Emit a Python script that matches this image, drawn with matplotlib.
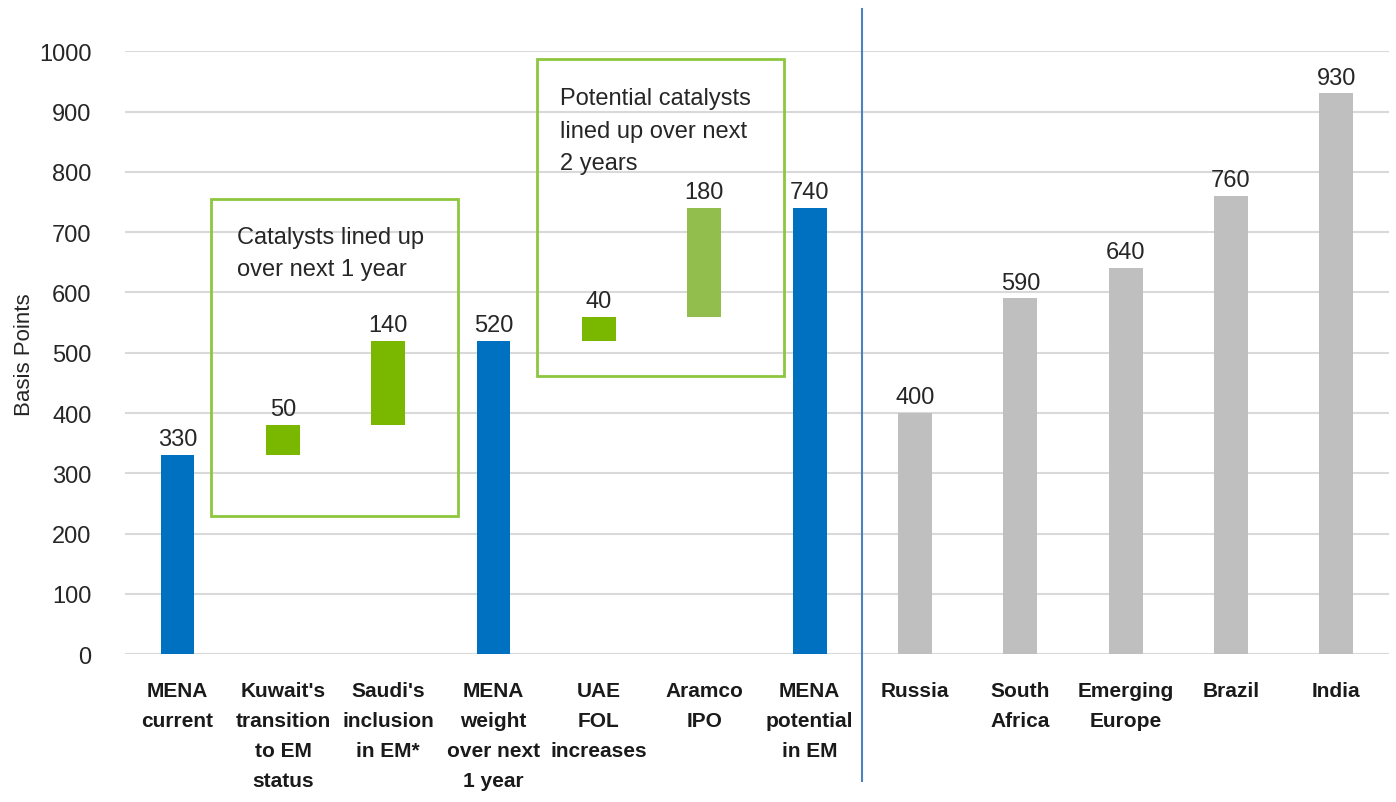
import numpy as np
import matplotlib.pyplot as plt
from matplotlib.patches import Rectangle
from matplotlib import font_manager

names = {f.name for f in font_manager.fontManager.ttflist}
narrow = 'Liberation Sans Narrow' if 'Liberation Sans Narrow' in names else 'Liberation Sans'
plt.rcParams['font.family'] = [narrow, 'DejaVu Sans']

categories = ["MENA\ncurrent", "Kuwait's\ntransition\nto EM\nstatus", "Saudi's\ninclusion\nin EM*",
              "MENA\nweight\nover next\n1 year", "UAE\nFOL\nincreases", "Aramco\nIPO",
              "MENA\npotential\nin EM", "Russia", "South\nAfrica", "Emerging\nEurope", "Brazil", "India"]
# bar heights and bases (waterfall)
heights = [330, 50, 140, 520, 40, 180, 740, 400, 590, 640, 760, 930]
bases = [0, 330, 380, 0, 520, 560, 0, 0, 0, 0, 0, 0]
labels = ["330", "50", "140", "520", "40", "180", "740", "400", "590", "640", "760", "930"]
kinds = ["total", "step", "step", "total", "step", "step2", "total",
         "peer", "peer", "peer", "peer", "peer"]

colors = {"total": "#0070C0", "step": "#7AB800", "step2": "#92BE4E", "peer": "#BFBFBF"}

fig = plt.figure(figsize=(13.96, 8.03), dpi=100)
ax = fig.add_axes([0.0895, 0.184, 0.9055, 0.751])

x = np.arange(len(categories))
ax.bar(x, heights, bottom=bases, width=0.32, color=[colors[k] for k in kinds], zorder=3)
for xi, h, b, lab in zip(x, heights, bases, labels):
    ax.text(xi, h + b + 8, lab, ha='center', va='bottom', fontsize=17, color='#262626', zorder=4)

ax.set_xlim(-0.5, len(categories) - 0.5)
ax.set_ylim(0, 1000)
ax.set_yticks(range(0, 1001, 100))
ax.grid(axis='y', color='#D9D9D9', lw=1.5, zorder=0)
ax.set_axisbelow(True)
for s in ax.spines.values():
    s.set_visible(False)
ax.tick_params(axis='both', length=0)
ax.tick_params(axis='y', labelsize=17, labelcolor='#262626', pad=24)
ax.set_xticks(x)
ax.set_xticklabels(categories, fontsize=15, fontweight='bold', color='#1a1a1a', linespacing=1.75, va='top')
ax.tick_params(axis='x', pad=19)
fig.text(25 / 1396, 1 - 355 / 803, "Basis Points", rotation=90, ha='center', va='center',
         fontsize=16, color='#262626')

# catalyst boxes
ax.add_patch(Rectangle((0.32, 229), 2.34, 526, fill=False, ec='#8DC63F', lw=2, zorder=5))
ax.add_patch(Rectangle((3.41, 461), 2.35, 526, fill=False, ec='#8DC63F', lw=2, zorder=5))
ax.text(0.56, 710, "Catalysts lined up\nover next 1 year", fontsize=17, va='top', ha='left',
        color='#262626', linespacing=1.6, zorder=6)
ax.text(3.63, 940, "Potential catalysts\nlined up over next\n2 years", fontsize=17, va='top',
        ha='left', color='#262626', linespacing=1.6, zorder=6)

# divider between MENA and peers
ax.plot([6.5, 6.5], [-210, 1070], color='#4F81BD', lw=1.5, clip_on=False, zorder=6)

fig.savefig('out.png', dpi=100)
